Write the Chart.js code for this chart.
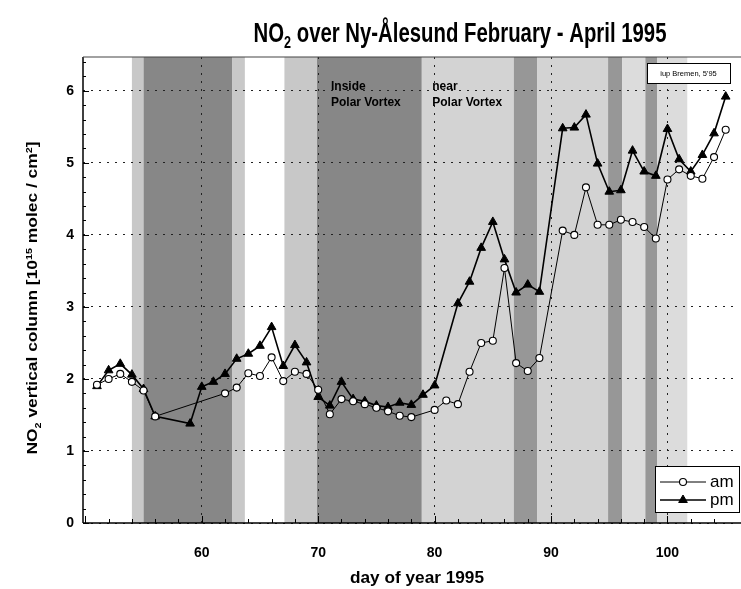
<!DOCTYPE html>
<html>
<head>
<meta charset="utf-8">
<script src="https://cdn.jsdelivr.net/npm/chart.js@4/dist/chart.umd.min.js"></script>
<style>
  html, body { margin: 0; padding: 0; background: #fff; }
  #wrap { width: 741px; height: 589px; }
</style>
</head>
<body>
<div id="wrap"><canvas id="no2" width="741" height="589"></canvas></div>
<script>
// NO2 vertical column, morning and evening measurements
const amDays = [51, 52, 53, 54, 55, 56, 62, 63, 64, 65, 66, 67, 68, 69, 70, 71, 72, 73, 74, 75, 76, 77, 78,
  80, 81, 82, 83, 84, 85, 86, 87, 88, 89, 91, 92, 93, 94, 95, 96, 97, 98, 99, 100, 101, 102, 103, 104, 105];
const amValues = [1.92, 2.00, 2.07, 1.96, 1.84, 1.48, 1.80, 1.88, 2.08, 2.04, 2.30, 1.97, 2.10, 2.07, 1.85, 1.51, 1.72, 1.69, 1.65, 1.60, 1.55, 1.49, 1.47,
  1.57, 1.70, 1.65, 2.10, 2.50, 2.53, 3.54, 2.22, 2.11, 2.29, 4.06, 4.00, 4.66, 4.14, 4.14, 4.21, 4.18, 4.11, 3.95, 4.77, 4.91, 4.82, 4.78, 5.08, 5.46];

const pmDays = [51, 52, 53, 54, 55, 56, 59, 60, 61, 62, 63, 64, 65, 66, 67, 68, 69, 70, 71, 72, 73, 74, 75, 76, 77, 78, 79, 80,
  82, 83, 84, 85, 86, 87, 88, 89, 91, 92, 93, 94, 95, 96, 97, 98, 99, 100, 101, 102, 103, 104, 105];
const pmValues = [1.90, 2.12, 2.21, 2.06, 1.86, 1.48, 1.38, 1.89, 1.96, 2.07, 2.28, 2.35, 2.46, 2.72, 2.18, 2.47, 2.23, 1.75, 1.63, 1.96, 1.72, 1.69, 1.63, 1.61, 1.67, 1.64, 1.78, 1.91,
  3.05, 3.35, 3.82, 4.18, 3.66, 3.20, 3.31, 3.21, 5.48, 5.49, 5.67, 4.99, 4.60, 4.62, 5.17, 4.88, 4.82, 5.47, 5.05, 4.88, 5.11, 5.41, 5.92];

// position of the station relative to the polar vortex (day ranges)
const bandFrom = [54.0, 55.0, 62.6, 67.1, 69.9, 78.9, 86.8, 88.8, 94.9, 96.1, 98.1, 99.1];
const bandTo   = [55.0, 62.6, 63.7, 69.9, 78.9, 86.8, 88.8, 94.9, 96.1, 98.1, 99.1, 101.7];
const bandKind = ["edge", "inside", "edge", "edge", "inside", "near", "inside2", "near", "inside2", "near2", "inside2", "near2"];

const xTicks = [60, 70, 80, 90, 100];
const yTicks = [0, 1, 2, 3, 4, 5, 6];

const FONT = "'Liberation Sans', Arial, Helvetica, sans-serif";
const shade = {
  inside: "#878787",
  inside2: "#979797",
  edge: "#c8c8c8",
  near: "#d3d3d3",
  near2: "#dcdcdc"
};

function richWidth(ctx, parts, size, weight) {
  let w = 0;
  for (const p of parts) {
    ctx.font = `${weight} ${p.sub || p.sup ? size * 0.62 : size}px ${FONT}`;
    w += ctx.measureText(p.t).width;
  }
  return w;
}

// text with sub/superscripts, centred on (cx, cy), squeezed to fitWidth
function drawRich(ctx, parts, cx, cy, size, weight, fitWidth, angle) {
  ctx.save();
  ctx.translate(cx, cy);
  if (angle) ctx.rotate(angle);
  const w = richWidth(ctx, parts, size, weight);
  const sx = fitWidth ? fitWidth / w : 1;
  ctx.scale(sx, 1);
  ctx.fillStyle = "#000";
  ctx.textBaseline = "alphabetic";
  ctx.textAlign = "left";
  let x = -w / 2;
  for (const p of parts) {
    const s = p.sub || p.sup ? size * 0.62 : size;
    ctx.font = `${weight} ${s}px ${FONT}`;
    const dy = p.sub ? size * 0.22 : p.sup ? -size * 0.36 : 0;
    ctx.fillText(p.t, x, size * 0.36 + dy);
    x += ctx.measureText(p.t).width;
  }
  ctx.restore();
}

function hline(ctx, x1, x2, y) { ctx.beginPath(); ctx.moveTo(x1, y); ctx.lineTo(x2, y); ctx.stroke(); }
function vline(ctx, x, y1, y2) { ctx.beginPath(); ctx.moveTo(x, y1); ctx.lineTo(x, y2); ctx.stroke(); }

const decor = {
  id: "decor",
  beforeDraw(chart) {
    const { ctx, chartArea: a, scales: { x } } = chart;
    ctx.save();
    bandFrom.forEach((from, i) => {
      const x1 = x.getPixelForValue(from);
      const x2 = x.getPixelForValue(bandTo[i]);
      ctx.fillStyle = shade[bandKind[i]];
      ctx.fillRect(x1, a.top, x2 - x1, a.bottom - a.top);
    });
    ctx.restore();
  },
  afterDraw(chart) {
    const { ctx, chartArea: a, scales: { x, y } } = chart;
    const W = chart.width;
    ctx.save();

    // frame: left axis, bottom axis, top line
    ctx.strokeStyle = "#000";
    ctx.lineWidth = 1.5;
    vline(ctx, a.left, a.top, a.bottom);
    hline(ctx, a.left, W, a.bottom);
    ctx.strokeStyle = "#444";
    ctx.lineWidth = 1.2;
    hline(ctx, a.left, W, a.top);

    // inward tick marks
    ctx.strokeStyle = "#000";
    ctx.lineWidth = 1;
    for (let i = 0; i <= 32; i++) {
      const py = Math.round(y.getPixelForValue(i * 0.2)) + 0.5;
      hline(ctx, a.left, a.left + (i % 5 === 0 ? 6 : 3), py);
    }
    for (let d = 50; d <= 104; d += 2) {
      const px = Math.round(x.getPixelForValue(d)) + 0.5;
      vline(ctx, px, a.bottom, a.bottom - (d % 10 === 0 ? 7 : 4));
    }

    // title
    drawRich(ctx, [{ t: "NO" }, { t: "2", sub: true }, { t: " over Ny-Ålesund February - April 1995" }],
      460, 32, 28, "bold", 413);

    // axis titles
    drawRich(ctx, [{ t: "NO" }, { t: "2", sub: true }, { t: " vertical column [10" }, { t: "15", sup: true }, { t: " molec / cm" }, { t: "2", sup: true }, { t: "]" }],
      32, 298, 15, "bold", 313, -Math.PI / 2);
    drawRich(ctx, [{ t: "day of year 1995" }], 417, 577, 16, "bold", 134);

    // vortex annotations
    ctx.fillStyle = "#000";
    ctx.font = `bold 12px ${FONT}`;
    ctx.textAlign = "left";
    ctx.textBaseline = "middle";
    const lx1 = x.getPixelForValue(71.1);
    const lx2 = x.getPixelForValue(79.8);
    ctx.fillText("Inside", lx1, 87);
    ctx.fillText("Polar Vortex", lx1, 103);
    ctx.fillText("near", lx2, 87);
    ctx.fillText("Polar Vortex", lx2, 103);

    // credit box
    ctx.fillStyle = "#fff";
    ctx.fillRect(647, 63, 83, 20);
    ctx.strokeStyle = "#000";
    ctx.lineWidth = 1;
    ctx.strokeRect(647.5, 63.5, 83, 20);
    ctx.fillStyle = "#000";
    ctx.font = `7.5px ${FONT}`;
    ctx.textAlign = "center";
    ctx.fillText("iup Bremen, 5'95", 688.5, 73.5);

    // legend, using each dataset's own line and point style
    ctx.fillStyle = "#fff";
    ctx.fillRect(655, 466, 85, 47);
    ctx.strokeRect(655.5, 466.5, 84, 46);
    const rows = [{ ds: chart.data.datasets[0], y: 482 }, { ds: chart.data.datasets[1], y: 500 }];
    for (const r of rows) {
      ctx.strokeStyle = r.ds.borderColor;
      ctx.lineWidth = r.ds.borderWidth;
      hline(ctx, 660, 706, r.y);
      ctx.fillStyle = r.ds.pointBackgroundColor;
      ctx.strokeStyle = r.ds.pointBorderColor;
      ctx.lineWidth = r.ds.pointBorderWidth;
      Chart.helpers.drawPoint(ctx, {
        pointStyle: r.ds.pointStyle, radius: r.ds.pointRadius, borderWidth: r.ds.pointBorderWidth, rotation: 0
      }, 683, r.y);
      ctx.fillStyle = "#000";
      ctx.font = `17px ${FONT}`;
      ctx.textAlign = "left";
      ctx.textBaseline = "middle";
      ctx.fillText(r.ds.label, 710, r.y);
    }
    ctx.restore();
  }
};

const toPoints = (days, vals) => days.map((d, i) => ({ x: d, y: vals[i] }));

new Chart(document.getElementById("no2"), {
  type: "line",
  data: {
    datasets: [
      {
        label: "am",
        data: toPoints(amDays, amValues),
        borderColor: "#000",
        borderWidth: 1,
        tension: 0,
        pointStyle: "circle",
        pointRadius: 3.5,
        pointBackgroundColor: "#fff",
        pointBorderColor: "#000",
        pointBorderWidth: 1.1
      },
      {
        label: "pm",
        data: toPoints(pmDays, pmValues),
        borderColor: "#000",
        borderWidth: 1.6,
        tension: 0,
        pointStyle: "triangle",
        pointRadius: 5,
        pointBackgroundColor: "#000",
        pointBorderColor: "#000",
        pointBorderWidth: 1
      }
    ]
  },
  options: {
    responsive: false,
    animation: false,
    layout: { padding: { top: 57, right: 4, left: 0, bottom: 0 } },
    plugins: { legend: { display: false }, title: { display: false }, tooltip: { enabled: false } },
    scales: {
      x: {
        type: "linear",
        min: 49.8,
        max: 105.8,
        afterBuildTicks: s => { s.ticks = xTicks.map(v => ({ value: v })); },
        afterFit: s => { s.height = 66; },
        grid: { color: "#222", lineWidth: 1, drawTicks: false },
        border: { display: false, dash: [2, 6] },
        ticks: { padding: 22, color: "#000", font: { family: FONT, size: 14, weight: "bold" } }
      },
      y: {
        min: 0,
        max: 6.47,
        afterBuildTicks: s => { s.ticks = yTicks.map(v => ({ value: v })); },
        afterFit: s => { s.width = 83; },
        grid: { color: "#222", lineWidth: 1, drawTicks: false },
        border: { display: false, dash: [2, 6] },
        ticks: { padding: 9, color: "#000", font: { family: FONT, size: 14, weight: "bold" } }
      }
    }
  },
  plugins: [decor]
});
</script>
</body>
</html>
